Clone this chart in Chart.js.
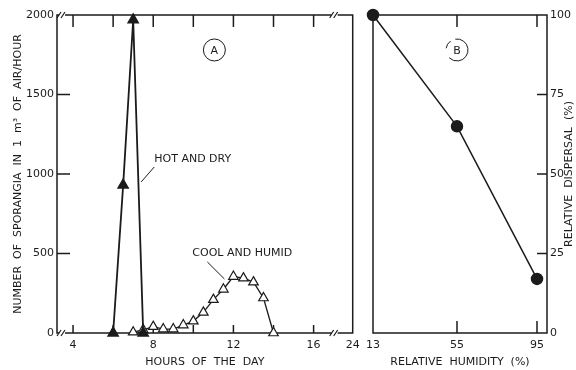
<!DOCTYPE html>
<html>
<head>
<meta charset="utf-8">
<script src="https://cdn.jsdelivr.net/npm/chart.js@4.4.1/dist/chart.umd.min.js"></script>
<style>
  body { margin: 0; background: #fff; width: 576px; height: 370px; overflow: hidden; position: relative; }
  #wrapA { position: absolute; left: 0; top: 0; width: 360px; height: 370px; }
  #wrapB { position: absolute; left: 360px; top: 0; width: 224px; height: 370px; }
</style>
</head>
<body>
<div id="wrapA"><canvas id="chartA"></canvas></div>
<div id="wrapB"><canvas id="chartB"></canvas></div>
<script>
// panel A: sporangia counts through the day
const hotHours = [6, 6.5, 7, 7.5];
const hotCounts = [0, 930, 1970, 0];
const coolHours = [7, 7.5, 8, 8.5, 9, 9.5, 10, 10.5, 11, 11.5, 12, 12.5, 13, 13.5, 14];
const coolCounts = [5, 20, 40, 25, 25, 50, 75, 130, 210, 275, 355, 345, 320, 220, 0];
const hourTicks = [4, 6, 8, 10, 12, 14, 16];
const hourLabels = ['4', '', '8', '', '12', '', '16'];
const hourEnd = 17.95;          // axis is broken after 16, right edge stands for 24
const hourEndLabel = '24';
const countTicks = [0, 500, 1000, 1500, 2000];

// panel B: relative dispersal vs humidity
const humidity = [13, 55, 95];
const dispersal = [100, 65, 17];
const humidityTicks = [13, 55, 95];
const dispersalTicks = [0, 25, 50, 75, 100];

const ink = '#1b1b1b';
Chart.defaults.font.family = 'DejaVu Sans';
Chart.defaults.font.size = 11;
Chart.defaults.color = ink;

function pts(xs, ys) {
    return xs.map((x, i) => ({ x: x, y: ys[i] }));
}

function line(ctx, x1, y1, x2, y2) {
    ctx.beginPath();
    ctx.moveTo(x1, y1);
    ctx.lineTo(x2, y2);
    ctx.stroke();
}

function breakMark(ctx, x, y) {
    ctx.save();
    ctx.fillStyle = '#fff';
    ctx.fillRect(x - 3, y - 2, 6, 4);
    ctx.lineWidth = 1.2;
    line(ctx, x - 5, y + 3, x - 1, y - 3);
    line(ctx, x - 1, y + 3, x + 3, y - 3);
    ctx.restore();
}

const framePluginA = {
    id: 'frameA',
    beforeDatasetsDraw(chart) {
        const ctx = chart.ctx, a = chart.chartArea;
        const xs = chart.scales.x, ys = chart.scales.y;
        ctx.save();
        ctx.strokeStyle = ink;
        ctx.lineWidth = 1.5;
        ctx.strokeRect(a.left, a.top, a.right - a.left, a.bottom - a.top);
        hourTicks.forEach(h => {
            const x = xs.getPixelForValue(h);
            line(ctx, x, a.top, x, a.top + 12);
            line(ctx, x, a.bottom, x, a.bottom - 8);
        });
        countTicks.slice(1, -1).forEach(v => {
            const y = ys.getPixelForValue(v);
            line(ctx, a.left, y, a.left + 13, y);
        });
        [3.45, 17.05].forEach(h => {
            const x = xs.getPixelForValue(h);
            breakMark(ctx, x, a.top);
            breakMark(ctx, x, a.bottom);
        });

        // labels with leader lines
        ctx.fillStyle = ink;
        ctx.textBaseline = 'middle';
        ctx.textAlign = 'left';
        ctx.lineWidth = 1;
        ctx.fillText('HOT AND DRY', xs.getPixelForValue(8.05), ys.getPixelForValue(1094));
        line(ctx, xs.getPixelForValue(8.05), ys.getPixelForValue(1044),
                  xs.getPixelForValue(7.4), ys.getPixelForValue(950));
        ctx.fillText('COOL AND HUMID', xs.getPixelForValue(9.95), ys.getPixelForValue(503));
        line(ctx, xs.getPixelForValue(10.7), ys.getPixelForValue(447),
                  xs.getPixelForValue(11.55), ys.getPixelForValue(340));

        const cx = xs.getPixelForValue(11.05), cy = ys.getPixelForValue(1780);
        ctx.beginPath();
        ctx.arc(cx, cy, 11, 0, Math.PI * 2);
        ctx.stroke();
        ctx.textAlign = 'center';
        ctx.fillText('A', cx, cy + 1);
        ctx.restore();
    }
};

const framePluginB = {
    id: 'frameB',
    beforeDatasetsDraw(chart) {
        const ctx = chart.ctx, a = chart.chartArea;
        const xs = chart.scales.x, ys = chart.scales.y;
        ctx.save();
        ctx.strokeStyle = ink;
        ctx.lineWidth = 1.5;
        ctx.strokeRect(a.left, a.top, a.right - a.left, a.bottom - a.top);
        humidityTicks.slice(1).forEach(h => {
            const x = xs.getPixelForValue(h);
            line(ctx, x, a.top, x, a.top + 12);
            line(ctx, x, a.bottom, x, a.bottom - 12);
        });
        dispersalTicks.slice(1, -1).forEach(v => {
            const y = ys.getPixelForValue(v);
            line(ctx, a.right, y, a.right - 10, y);
        });

        const cx = xs.getPixelForValue(55), cy = ys.getPixelForValue(89);
        ctx.lineWidth = 1;
        ctx.beginPath();
        ctx.arc(cx, cy, 11, -Math.PI * 0.55, Math.PI * 0.75);
        ctx.stroke();
        ctx.beginPath();
        ctx.arc(cx, cy, 11, Math.PI * 1.05, Math.PI * 1.3);
        ctx.stroke();
        ctx.fillStyle = ink;
        ctx.textAlign = 'center';
        ctx.textBaseline = 'middle';
        ctx.fillText('B', cx, cy + 1);

        // right-hand axis title, reading bottom to top
        ctx.translate(a.right + 22, (a.top + a.bottom) / 2);
        ctx.rotate(-Math.PI / 2);
        ctx.fillText('RELATIVE  DISPERSAL  (%)', 0, 0);
        ctx.restore();
    }
};

new Chart(document.getElementById('chartA'), {
    type: 'scatter',
    data: {
        datasets: [
            {
                label: 'Hot and dry',
                data: pts(hotHours, hotCounts),
                showLine: true,
                clip: false,
                borderColor: ink,
                borderWidth: 1.8,
                pointStyle: 'triangle',
                pointRadius: 5.5,
                pointBackgroundColor: ink,
                pointBorderColor: ink
            },
            {
                label: 'Cool and humid',
                data: pts(coolHours, coolCounts),
                showLine: true,
                clip: false,
                borderColor: ink,
                borderWidth: 1.3,
                pointStyle: 'triangle',
                pointRadius: 5.5,
                pointBorderWidth: 1.2,
                pointBackgroundColor: '#fff',
                pointBorderColor: ink
            }
        ]
    },
    options: {
        responsive: true,
        maintainAspectRatio: false,
        animation: false,
        layout: { padding: { top: 15, right: 7, bottom: 0, left: 0 } },
        plugins: { legend: { display: false }, tooltip: { enabled: false } },
        scales: {
            x: {
                type: 'linear',
                min: 3.2,
                max: hourEnd,
                afterBuildTicks: s => { s.ticks = hourTicks.concat([hourEnd]).map(v => ({ value: v })); },
                afterFit: s => { s.height = 37; s.paddingRight = 0; s.paddingLeft = 0; },
                ticks: {
                    autoSkip: false,
                    maxRotation: 0,
                    padding: 6,
                    callback: (v, i) => i < hourLabels.length ? hourLabels[i] : hourEndLabel
                },
                grid: { display: false, drawTicks: false },
                border: { display: false },
                title: { display: true, text: 'HOURS  OF  THE  DAY', padding: { top: 0, bottom: 1 } }
            },
            y: {
                min: 0,
                max: 2000,
                afterBuildTicks: s => { s.ticks = countTicks.map(v => ({ value: v })); },
                afterFit: s => { s.width = 57; },
                ticks: { padding: 3, callback: v => String(v) },
                grid: { display: false, drawTicks: false },
                border: { display: false },
                title: {
                    display: true,
                    text: 'NUMBER  OF  SPORANGIA  IN  1  m³  OF  AIR/HOUR',
                    padding: { top: 12, bottom: 0 }
                }
            }
        }
    },
    plugins: [framePluginA]
});

new Chart(document.getElementById('chartB'), {
    type: 'scatter',
    data: {
        datasets: [{
            label: 'Relative dispersal',
            data: pts(humidity, dispersal),
            showLine: true,
            clip: false,
            borderColor: ink,
            borderWidth: 1.5,
            pointRadius: 5.5,
            pointBackgroundColor: ink,
            pointBorderColor: ink
        }]
    },
    options: {
        responsive: true,
        maintainAspectRatio: false,
        animation: false,
        layout: { padding: { top: 15, right: 0, bottom: 0, left: 13 } },
        plugins: { legend: { display: false }, tooltip: { enabled: false } },
        scales: {
            x: {
                type: 'linear',
                min: 13,
                max: 100,
                afterBuildTicks: s => { s.ticks = humidityTicks.map(v => ({ value: v })); },
                afterFit: s => { s.height = 37; },
                ticks: { autoSkip: false, maxRotation: 0, padding: 6 },
                grid: { display: false, drawTicks: false },
                border: { display: false },
                title: { display: true, text: 'RELATIVE  HUMIDITY  (%)', padding: { top: 0, bottom: 1 } }
            },
            y: {
                position: 'right',
                min: 0,
                max: 100,
                afterBuildTicks: s => { s.ticks = dispersalTicks.map(v => ({ value: v })); },
                afterFit: s => { s.width = 37; },
                ticks: { padding: 3 },
                grid: { display: false, drawTicks: false },
                border: { display: false }
            }
        }
    },
    plugins: [framePluginB]
});
</script>
</body>
</html>
